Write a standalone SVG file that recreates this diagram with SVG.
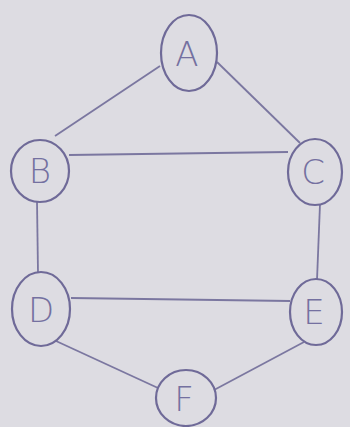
<svg xmlns="http://www.w3.org/2000/svg" width="350" height="427" viewBox="0 0 350 427">
<style>
.bg{fill:#dddce2}
.n ellipse{fill:none;stroke:#6f6a98;stroke-width:2.2}
.n text{font-family:"DejaVu Sans","Liberation Sans",sans-serif;font-size:34px;fill:#7470a0;text-anchor:middle;font-weight:200}
#edges line{stroke:#7b77a0;stroke-width:1.8}
</style>
<rect class="bg" x="0" y="0" width="350" height="427"/>
<g id="edges">
<line x1="160" y1="66" x2="55" y2="136"/>
<line x1="217" y1="62" x2="300" y2="143"/>
<line x1="69" y1="155" x2="288" y2="152"/>
<line x1="37" y1="201" x2="38" y2="273"/>
<line x1="320" y1="204" x2="317" y2="280"/>
<line x1="71" y1="298" x2="290" y2="301"/>
<line x1="56" y1="341" x2="158" y2="388"/>
<line x1="304" y1="342" x2="214" y2="390"/>
</g>
<g id="A" class="n"><ellipse cx="189" cy="53" rx="28" ry="38"/><text x="187" y="66">A</text></g>
<g id="B" class="n"><ellipse cx="40" cy="171" rx="29" ry="31"/><text x="40" y="183">B</text></g>
<g id="C" class="n"><ellipse cx="315" cy="172" rx="27" ry="33"/><text x="313" y="184">C</text></g>
<g id="D" class="n"><ellipse cx="41" cy="309" rx="29" ry="37"/><text x="41" y="322">D</text></g>
<g id="E" class="n"><ellipse cx="316" cy="312" rx="26" ry="33"/><text x="314" y="324">E</text></g>
<g id="F" class="n"><ellipse cx="186" cy="398" rx="30" ry="28"/><text x="184" y="411">F</text></g>
</svg>
